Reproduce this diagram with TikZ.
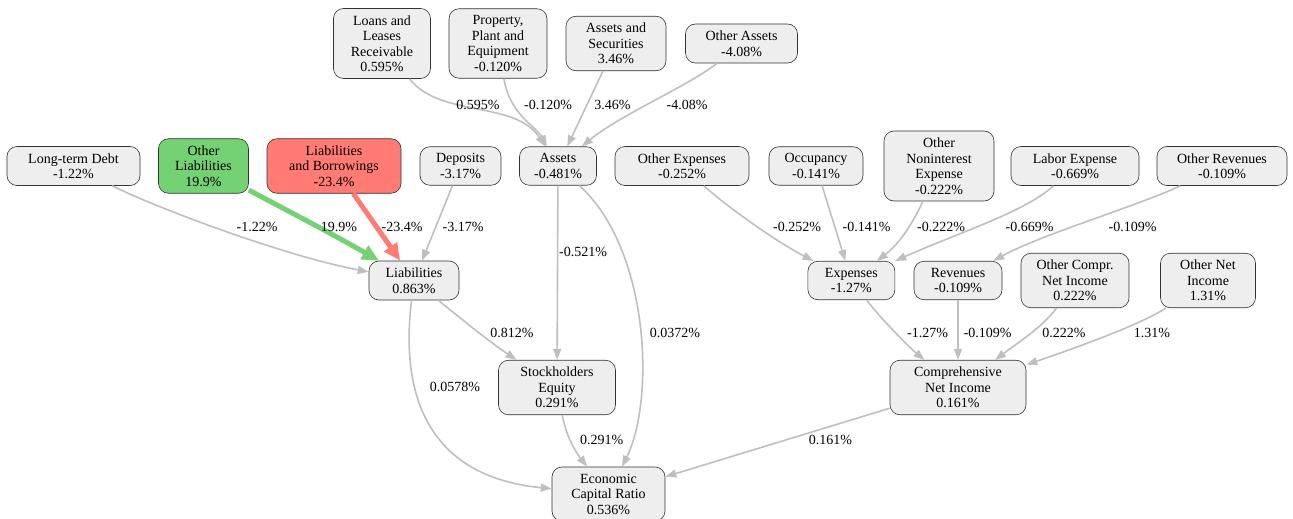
\documentclass[tikz,border=0pt]{standalone}
\usepackage{fontspec}
\setmainfont{Liberation Serif}
\newfontfamily\graphfont{Liberation Serif}
\usetikzlibrary{arrows.meta}

\definecolor{nodegray}{HTML}{EEEEEE}
\definecolor{edgegray}{HTML}{BFBFBF}
\definecolor{upgreen}{HTML}{74D174}
\definecolor{downred}{HTML}{FF7B73}

\begin{document}
\begin{tikzpicture}[
  x=1pt, y=-1pt,
  font=\graphfont\fontsize{14pt}{15.5pt}\selectfont,
  fact/.style={draw=black!80,line width=0.6pt,rounded corners=10pt,fill=nodegray,align=center,inner xsep=2pt,inner ysep=6.8pt},
  lbl/.style={inner sep=0pt},
  link/.style={draw=edgegray,line width=1.6pt,-{Triangle[length=11pt,width=8pt]}},
  biglink/.style={line width=5pt,-{Triangle[length=17pt,width=15pt]}}
]
  \useasboundingbox (0,0) rectangle (1293,519);

  % top row
  \node[fact, minimum width=97pt]  (loans)     at (382,43.5)  {Loans and\\Leases\\Receivable\\0.595\%};
  \node[fact, minimum width=98pt]  (ppe)       at (498,43.5)  {Property,\\Plant and\\Equipment\\-0.120\%};
  \node[fact, minimum width=100pt] (secur)     at (616,43.5)  {Assets and\\Securities\\3.46\%};
  \node[fact, minimum width=112pt] (othassets) at (741.5,43.5) {Other Assets\\-4.08\%};

  % second row
  \node[fact, minimum width=133pt] (ltdebt)    at (73.5,166)  {Long-term Debt\\-1.22\%};
  \node[fact, minimum width=90pt, fill=upgreen]   (othliab)  at (203.5,166) {Other\\Liabilities\\19.9\%};
  \node[fact, minimum width=134pt, fill=downred]  (liabborr) at (334,166)   {Liabilities\\and Borrowings\\-23.4\%};
  \node[fact, minimum width=81pt]  (deposits)  at (460.5,166) {Deposits\\-3.17\%};
  \node[fact, minimum width=77pt]  (assets)    at (558,166)   {Assets\\-0.481\%};
  \node[fact, minimum width=134pt] (othexp)    at (682,166)   {Other Expenses\\-0.252\%};
  \node[fact, minimum width=94pt]  (occup)     at (816,166)   {Occupancy\\-0.141\%};
  \node[fact, minimum width=110pt] (othnonint) at (939,166)   {Other\\Noninterest\\Expense\\-0.222\%};
  \node[fact, minimum width=128pt] (labor)     at (1075,166)  {Labor Expense\\-0.669\%};
  \node[fact, minimum width=130pt] (othrev)    at (1222,166)  {Other Revenues\\-0.109\%};

  % third row
  \node[fact, minimum width=90pt]  (liab)      at (414,280.5)   {Liabilities\\0.863\%};
  \node[fact, minimum width=87pt]  (expenses)  at (851.4,280.5) {Expenses\\-1.27\%};
  \node[fact, minimum width=88pt]  (revenues)  at (958,280.5)   {Revenues\\-0.109\%};
  \node[fact, minimum width=108pt] (othcompr)  at (1075,280.5)  {Other Compr.\\Net Income\\0.222\%};
  \node[fact, minimum width=95pt]  (othnet)    at (1208,280.5)  {Other Net\\Income\\1.31\%};

  % bottom rows
  \node[fact, minimum width=117pt] (equity)    at (557,387.5)   {Stockholders\\Equity\\0.291\%};
  \node[fact, minimum width=136pt] (compr)     at (958,387.5)   {Comprehensive\\Net Income\\0.161\%};
  \node[fact, minimum width=113pt] (ecr)       at (608.5,494)   {Economic\\Capital Ratio\\0.536\%};

  % edges into Assets
  \draw[link] (loans) .. controls (440,118) and (515,100) .. (assets);
  \draw[link] (ppe) .. controls (510,115) and (535,125) .. (assets);
  \draw[link] (secur) -- (assets);
  \draw[link] (othassets) .. controls (690,85) and (620,115) .. (assets);

  % edges into Liabilities
  \draw[link] (ltdebt) .. controls (150,205) and (280,255) .. (liab);
  \draw[link, biglink, draw=upgreen] (othliab) .. controls (290,212) and (325,230) .. (liab);
  \draw[link, biglink, draw=downred] (liabborr) -- (liab);
  \draw[link] (deposits) -- (liab);

  % edges into Expenses and Revenues
  \draw[link] (othexp) .. controls (725,205) and (775,241) .. (expenses);
  \draw[link] (occup) -- (expenses);
  \draw[link] (othnonint) .. controls (912,225) and (899,244) .. (expenses);
  \draw[link] (labor) .. controls (1025,212) and (960,232) .. (expenses);
  \draw[link] (othrev) .. controls (1140,205) and (1040,235) .. (revenues);

  % edges into Comprehensive Net Income
  \draw[link] (expenses) .. controls (882,320) and (910,348) .. (compr);
  \draw[link] (revenues) -- (compr);
  \draw[link] (othcompr) .. controls (1045,325) and (1015,345) .. (compr);
  \draw[link] (othnet) .. controls (1140,325) and (1070,350) .. (compr);

  % edges into Stockholders Equity and Economic Capital Ratio
  \draw[link] (assets) -- (equity);
  \draw[link] (liab) .. controls (465,322) and (490,342) .. (equity);
  \draw[link] (assets) .. controls (650,250) and (655,400) .. (ecr);
  \draw[link] (liab) .. controls (398,410) and (440,478) .. (ecr);
  \draw[link] (equity) .. controls (567,440) and (578,455) .. (ecr);
  \draw[link] (compr) -- (ecr);

  % edge labels
  \node[lbl] (lloans)     at (478,105)   {0.595\%};
  \node[lbl] (lppe)       at (548,105)   {-0.120\%};
  \node[lbl] (lsecur)     at (612.5,105) {3.46\%};
  \node[lbl] (lothassets) at (687,105)   {-4.08\%};
  \node[lbl] (lltdebt)    at (257,227)   {-1.22\%};
  \node[lbl] (lothliab)   at (339,227)   {19.9\%};
  \node[lbl] (lliabborr)  at (402,227)   {-23.4\%};
  \node[lbl] (ldeposits)  at (463,227)   {-3.17\%};
  \node[lbl] (lothexp)    at (797,227)   {-0.252\%};
  \node[lbl] (loccup)     at (866.5,227) {-0.141\%};
  \node[lbl] (lothnonint) at (941,227)   {-0.222\%};
  \node[lbl] (llabor)     at (1029.5,227) {-0.669\%};
  \node[lbl] (lothrev)    at (1132.5,227) {-0.109\%};
  \node[lbl] (lassetseq)  at (583,252)   {-0.521\%};
  \node[lbl] (lliabeq)    at (512,333)   {0.812\%};
  \node[lbl] (lassetsecr) at (675,333)   {0.0372\%};
  \node[lbl] (lexpenses)  at (927.5,333) {-1.27\%};
  \node[lbl] (lrevenues)  at (987.7,333) {-0.109\%};
  \node[lbl] (lothcompr)  at (1064,333)  {0.222\%};
  \node[lbl] (lothnet)    at (1152,333)  {1.31\%};
  \node[lbl] (lliabecr)   at (455,386.7) {0.0578\%};
  \node[lbl] (lequity)    at (601.6,440) {0.291\%};
  \node[lbl] (lcompr)     at (830.5,440) {0.161\%};
\end{tikzpicture}
\end{document}
